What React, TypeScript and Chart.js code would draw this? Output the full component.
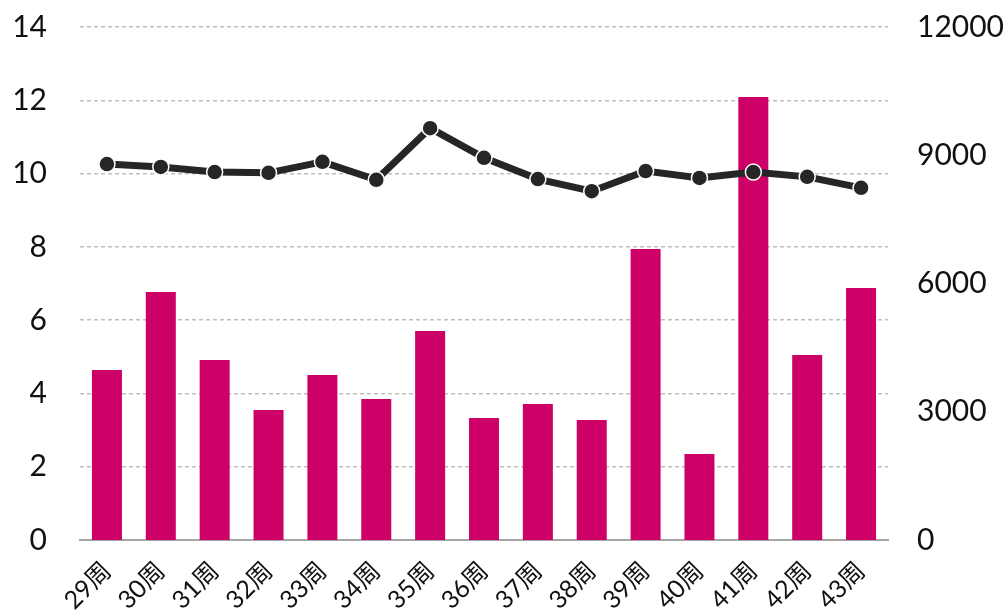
import React, { useEffect, useRef } from "react";
import { Chart, registerables } from "chart.js";

Chart.register(...registerables);

const categories = ["29周", "30周", "31周", "32周", "33周", "34周", "35周", "36周", "37周", "38周", "39周", "40周", "41周", "42周", "43周"];
const barValues = [3977, 5801, 4211, 3041, 3860, 3298, 4889, 2854, 3181, 2807, 6807, 2012, 10363, 4327, 5895];
const lineValues = [10.26, 10.18, 10.04, 10.02, 10.32, 9.83, 11.24, 10.43, 9.85, 9.52, 10.07, 9.88, 10.04, 9.91, 9.61];
const leftTicks = { min: 0, max: 14, step: 2 };
const rightTicks = { min: 0, max: 12000, step: 3000 };

const FONT = "Lato, 'Noto Sans CJK SC', sans-serif";

export default function App() {
  const ref = useRef<HTMLCanvasElement | null>(null);
  useEffect(() => {
    if (!ref.current) return;
    const chart = new Chart(ref.current, {
      type: "bar",
      data: {
        labels: categories,
        datasets: [
          {
            type: "line",
            data: lineValues,
            yAxisID: "y",
            borderColor: "#262626",
            borderWidth: 7,
            pointRadius: 8,
            pointBackgroundColor: "#262626",
            pointBorderColor: "#ffffff",
            pointBorderWidth: 1.5,
            order: 0,
          } as any,
          {
            type: "bar",
            data: barValues,
            yAxisID: "y1",
            backgroundColor: "#CC0066",
            categoryPercentage: 1,
            barPercentage: 0.557,
            order: 1,
          },
        ],
      },
      options: {
        animation: false,
        responsive: false,
        maintainAspectRatio: false,
        layout: { padding: { top: 27, left: 0, right: 0, bottom: 0 } },
        plugins: { legend: { display: false }, tooltip: { enabled: false } },
        scales: {
          x: {
            grid: { display: false, drawTicks: false },
            border: { display: true, color: "#A6A6A6", width: 2 },
            ticks: {
              minRotation: 45,
              maxRotation: 45,
              color: "#111",
              padding: 16,
              font: { family: FONT, size: 25 },
            },
            afterFit: (s: any) => {
              s.height = 72;
            },
          },
          y: {
            position: "left",
            min: leftTicks.min,
            max: leftTicks.max,
            grid: { color: "#BFBFBF", lineWidth: 1.5, drawTicks: false },
            border: { display: false, dash: [4, 3] },
            ticks: {
              stepSize: leftTicks.step,
              padding: 33,
              color: "#111",
              font: { family: FONT, size: 30 },
            },
            afterFit: (s: any) => {
              s.width = 80;
              s.paddingTop = 0;
              s.paddingBottom = 0;
            },
          },
          y1: {
            position: "right",
            min: rightTicks.min,
            max: rightTicks.max,
            grid: { display: false, drawTicks: false },
            border: { display: false },
            ticks: {
              stepSize: rightTicks.step,
              padding: 29,
              color: "#111",
              font: { family: FONT, size: 30 },
              callback: (v: any) => String(v),
            },
            afterFit: (s: any) => {
              s.width = 119;
              s.paddingTop = 0;
              s.paddingBottom = 0;
            },
          },
        },
      },
    });
    return () => chart.destroy();
  }, []);
  return (
    <div style={{ position: "fixed", left: 0, top: 0, width: 1007, height: 612, background: "#fff" }}>
      <canvas ref={ref} width={1007} height={612} />
    </div>
  );
}
